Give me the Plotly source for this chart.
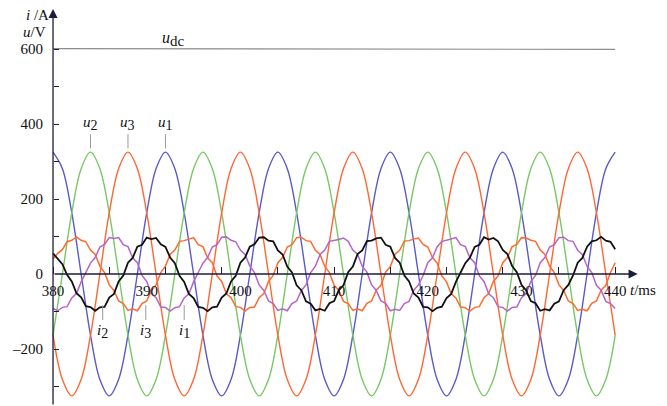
import numpy as np
import plotly.graph_objects as go

# ---- sampled waveforms (t in ms) ----
# phase voltages, one sample per millisecond from 380 to 440 ms
t_u = np.arange(380, 441, 1.0)
u1 = [325, 281, 163, 0, -163, -281, -325, -281, -163, 0, 163, 281,
      325, 281, 163, 0, -163, -281, -325, -281, -163, 0, 163, 281,
      325, 281, 163, 0, -163, -281, -325, -281, -163, 0, 163, 281,
      325, 281, 163, 0, -163, -281, -325, -281, -163, 0, 163, 281,
      325, 281, 163, 0, -163, -281, -325, -281, -163, 0, 163, 281,
      325]
u2 = [-163, 0, 163, 281,
      325, 281, 163, 0, -163, -281, -325, -281, -163, 0, 163, 281,
      325, 281, 163, 0, -163, -281, -325, -281, -163, 0, 163, 281,
      325, 281, 163, 0, -163, -281, -325, -281, -163, 0, 163, 281,
      325, 281, 163, 0, -163, -281, -325, -281, -163, 0, 163, 281,
      325, 281, 163, 0, -163, -281, -325, -281, -163]
u3 = [-163, -281, -325, -281, -163, 0, 163, 281,
      325, 281, 163, 0, -163, -281, -325, -281, -163, 0, 163, 281,
      325, 281, 163, 0, -163, -281, -325, -281, -163, 0, 163, 281,
      325, 281, 163, 0, -163, -281, -325, -281, -163, 0, 163, 281,
      325, 281, 163, 0, -163, -281, -325, -281, -163, 0, 163, 281,
      325, 281, 163, 0, -163]

# DC-link voltage
t_dc = [380, 396, 397, 440]
u_dc = [601, 601, 599, 599]

# phase currents (with switching ripple), one sample every 0.5 ms from 380 to 440 ms
t_i = np.arange(380, 440.25, 0.5)
i1 = [-92, -98, -89, -87, -64, -52, -21, 4, 29, 44, 72, 79, 97,
      95, 97, 78, 73, 43, 30, -4, -20, -52, -63, -88, -89, -99, -90, -87, -64, -53, -21, 4, 29, 44, 72, 78, 98,
      99, 90, 86, 64, 52, 21, 4, -29, -44, -72, -79, -97, -93, -98, -79, -72, -44, -29, 4, 21, 52, 64, 87, 89,
      92, 96, 87, 64, 53, 21, 5, -29, -44, -72, -78, -98, -94, -97, -79, -73, -43, -29, -4, 30, 43, 73, 87, 90,
      94, 97, 78, 73, 43, 30, -5, -20, -53, -63, -87, -89, -99, -89, -88, -63, -52, -20, -4, 30, 44, 72, 78, 97,
      98, 89, 87, 63, 52, 20, 4, -30, -43, -73, -79, -92]
i2 = [55, 40, 26, -2, -20, -51, -62, -86, -88, -98, -89, -88, -63, -53, -20, -4, 30, 43, 73, 78, 97,
      93, 96, 79, 72, 44, 29, -5, -21, -53, -64, -88, -90, -99, -89, -87, -63, -52, -20, -5, 30, 44, 73, 79, 97,
      98, 89, 87, 63, 52, 20, 4, -30, -43, -73, -79, -97, -93, -98, -78, -72, -43, -30, 5, 20, 53, 63, 88, 89,
      95, 97, 78, 73, 43, 30, -4, -20, -52, -63, -88, -89, -99, -90, -87, -64, -53, -21, 4, 29, 44, 72, 78, 98,
      92, 96, 87, 64, 53, 21, 5, -29, -44, -72, -78, -98, -94, -97, -79, -73, -43, -29, -4, 30, 43, 73, 87, 90,
      99, 89, 86, 66]
i3 = [40, 55, 65, 86, 90,
      99, 90, 86, 64, 52, 21, 4, -29, -44, -72, -79, -97, -93, -98, -79, -72, -44, -29, 4, 21, 52, 64, 87, 89,
      94, 97, 78, 73, 43, 30, -5, -20, -53, -63, -87, -89, -99, -89, -88, -63, -52, -20, -4, 30, 44, 72, 78, 97,
      98, 89, 87, 63, 52, 20, 4, -30, -43, -73, -79, -97, -93, -98, -78, -72, -43, -30, 5, 20, 53, 63, 88, 89,
      93, 96, 79, 72, 44, 29, -5, -21, -53, -64, -88, -90, -99, -89, -87, -63, -52, -20, -5, 30, 44, 73, 79, 97,
      96, 90, 87, 64, 52, 21, 4, -29, -44, -72, -79, -97, -94, -98, -78, -72, -43, -30, 4, 30]

# axis labelling
x_label_vals = [380, 390, 400, 410, 420, 430, 440]
x_tick_marks = [380, 386, 392, 398, 404, 410, 416, 422, 428, 434, 440]
y_label_vals = [-200, 0, 200, 400, 600]
y_label_text = ["–200", "0", "200", "400", "600"]
y_tick_marks = [-300, -200, -100, 100, 200, 300, 400, 500, 600]

# ---- styling ----
W, H = 667, 406
SERIF = "Liberation Serif, Times New Roman, serif"
AXIS = "#1c1c3c"
C_U1, C_U2, C_U3 = "#5a5ac8", "#78c864", "#ff6633"
C_I1, C_I2, C_I3 = "#b565c8", "#111111", "#ff6a30"

X_RANGE = [374.34, 445.53]
Y_RANGE = [-352.0, 730.67]
X_TIP, Y_TIP = 442.4, 706.7

fig = go.Figure()

for t, y, c in [(t_u, u1, C_U1), (t_u, u2, C_U2), (t_u, u3, C_U3)]:
    fig.add_trace(go.Scatter(x=t, y=y, mode="lines",
                             line=dict(color=c, width=1.4, shape="spline", smoothing=1),
                             hoverinfo="skip"))

fig.add_trace(go.Scatter(x=t_dc, y=u_dc, mode="lines",
                         line=dict(color="#8c8c8c", width=1.2), hoverinfo="skip"))

for y, c, w in [(i3, C_I3, 1.5), (i1, C_I1, 1.5), (i2, C_I2, 1.8)]:
    fig.add_trace(go.Scatter(x=t_i, y=y, mode="lines",
                             line=dict(color=c, width=w), hoverinfo="skip"))

x_pos = (0 - Y_RANGE[0]) / (Y_RANGE[1] - Y_RANGE[0])
y_pos = (380 - X_RANGE[0]) / (X_RANGE[1] - X_RANGE[0])

fig.update_xaxes(
    range=X_RANGE, anchor="free", position=x_pos,
    showline=False, showgrid=False, zeroline=False,
    tickmode="array", tickvals=x_label_vals, ticktext=[str(v) for v in x_label_vals],
    ticks="", ticklabelstandoff=6,
    tickfont=dict(family=SERIF, size=15, color="#111"),
    minor=dict(tickmode="array", tickvals=x_tick_marks, ticks="inside",
               ticklen=7, tickwidth=1.2, tickcolor=AXIS, showgrid=False),
)
fig.update_yaxes(
    range=Y_RANGE, anchor="free", position=y_pos,
    showline=False, showgrid=False, zeroline=False,
    tickmode="array", tickvals=y_label_vals, ticktext=y_label_text,
    ticks="", ticklabelstandoff=10,
    tickfont=dict(family=SERIF, size=15, color="#111"),
    minor=dict(tickmode="array", tickvals=y_tick_marks, ticks="inside",
               ticklen=5, tickwidth=1.2, tickcolor=AXIS, showgrid=False),
)


def sub(s, size=14):
    return f"<sub><span style='font-size:{size}px'>{s}</span></sub>"


ann = []
# axis lines with arrow heads
ann.append(dict(x=X_TIP, y=0, ax=380, ay=0, xref="x", yref="y", axref="x", ayref="y",
                text="", showarrow=True, arrowhead=2, arrowsize=1.4, arrowwidth=1.3,
                arrowcolor=AXIS))
ann.append(dict(x=380, y=Y_TIP, ax=380, ay=Y_RANGE[0], xref="x", yref="y", axref="x", ayref="y",
                text="", showarrow=True, arrowhead=2, arrowsize=1.4, arrowwidth=1.3,
                arrowcolor=AXIS))

# axis titles
lab = dict(family=SERIF, size=15, color="#111")
ann.append(dict(x=380, y=691, xref="x", yref="y", xanchor="right", xshift=-2,
                text="<i>i</i> /A", showarrow=False, font=lab))
ann.append(dict(x=380, y=645, xref="x", yref="y", xanchor="right", xshift=-5,
                text="<i>u</i>/V", showarrow=False, font=lab))
ann.append(dict(x=441.4, y=-43, xref="x", yref="y", xanchor="left",
                text="<i>t</i>/ms", showarrow=False, font=lab))

# curve labels
ann.append(dict(x=392.9, y=626, xref="x", yref="y", text="<i>u</i>" + sub("dc", 15),
                showarrow=False, font=dict(family=SERIF, size=16, color="#111")))
for name, tx in [("2", 384), ("3", 388), ("1", 392)]:
    ann.append(dict(x=tx, y=335, ax=tx, ay=402, xref="x", yref="y", axref="x", ayref="y",
                    text="<i>u</i>" + sub(name), showarrow=True, arrowhead=0,
                    arrowwidth=1, arrowcolor="#999999", font=lab))
for name, tx in [("2", 385.3), ("3", 389.9), ("1", 394.0)]:
    ann.append(dict(x=tx, y=-83, ax=tx, ay=-152, xref="x", yref="y", axref="x", ayref="y",
                    text="<i>i</i>" + sub(name), showarrow=True, arrowhead=0,
                    arrowwidth=1, arrowcolor="#999999", font=lab))

fig.update_layout(
    width=W, height=H, margin=dict(l=0, r=0, t=0, b=0),
    plot_bgcolor="white", paper_bgcolor="white",
    showlegend=False, annotations=ann,
)

fig.write_html("out.html")
